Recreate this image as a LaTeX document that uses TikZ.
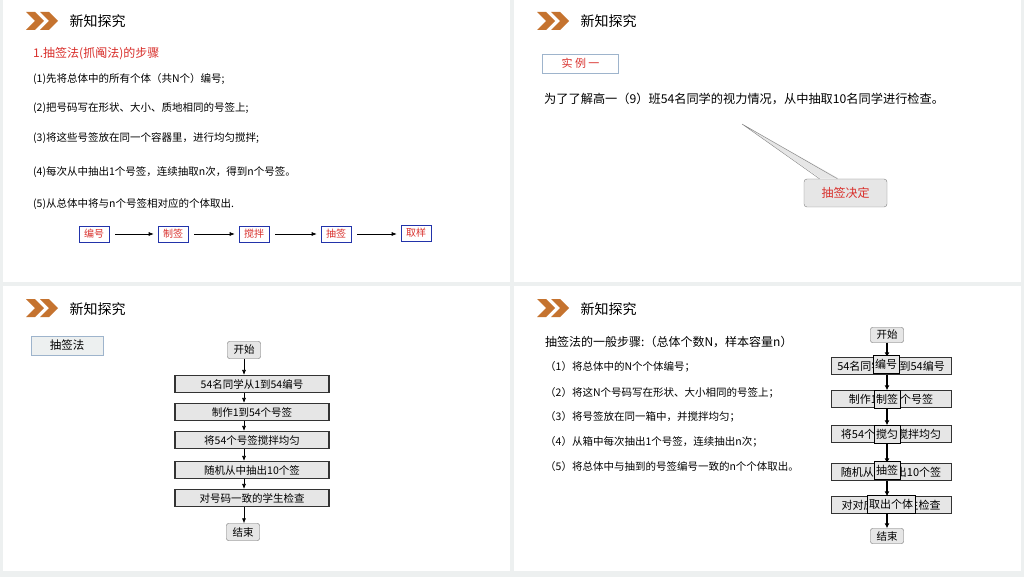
\documentclass[tikz,border=0pt]{standalone}
\usepackage{fontspec}
\setmainfont{Noto Sans CJK SC}
\usetikzlibrary{positioning,arrows.meta,calc}
\definecolor{chev}{HTML}{C5732F}
\definecolor{redtxt}{HTML}{D9302C}
\definecolor{bluebox}{HTML}{2233AA}
\definecolor{panelbg}{HTML}{EDF0F0}
\definecolor{boxgray}{HTML}{E6E6E6}
\definecolor{lightblue}{HTML}{9EB4CC}
\tikzset{
  chevron/.style={fill=chev, draw=none},
  title/.style={anchor=west, font=\fontsize{14}{14}\selectfont},
  stepline/.style={anchor=west, font=\fontsize{10.5}{10.5}\selectfont, inner sep=0pt},
  flowbox/.style={draw=bluebox, semithick, text=redtxt, font=\fontsize{10}{10}\selectfont, minimum width=30pt, minimum height=16pt, inner sep=1pt},
  procbox/.style={draw=black!80, line width=1.1pt, fill=boxgray, font=\fontsize{10.5}{10.5}\selectfont, minimum width=154pt, minimum height=17pt, inner sep=0pt},
  termbox/.style={draw=black!60, fill=boxgray, rounded corners=2pt, font=\fontsize{10.5}{10.5}\selectfont, minimum width=33pt, minimum height=17pt, inner sep=1pt},
  sprocbox/.style={draw=black!80, fill=boxgray, font=\fontsize{11}{11}\selectfont, minimum width=120pt, minimum height=17pt, inner sep=0pt},
  overbox/.style={draw=black, line width=0.9pt, fill=boxgray, font=\fontsize{11}{11}\selectfont, minimum height=18pt, inner sep=2pt},
  flowarrow/.style={-{Latex[length=5pt,width=4pt]}, semithick},
  thickarrow/.style={-{Latex[length=5pt,width=5pt]}, line width=1.5pt},
}
\newcommand{\chevrons}[2]{%
  \fill[chevron] (#1,#2) -- ++(9,0) -- ++(9,9) -- ++(-9,9) -- ++(-9,0) -- ++(9,-9) -- cycle;
  \fill[chevron] ($(#1,#2)+(14,0)$) -- ++(9,0) -- ++(9,9) -- ++(-9,9) -- ++(-9,0) -- ++(9,-9) -- cycle;}
\begin{document}
\begin{tikzpicture}[x=1pt,y=-1pt]
  \fill[panelbg] (0,0) rectangle (1024,577);
  \fill[white] (3,0) rectangle (510,282);
  \fill[white] (514,0) rectangle (1021,282);
  \fill[white] (3,286) rectangle (510,571);
  \fill[white] (514,286) rectangle (1021,571);
  \useasboundingbox (0,0) rectangle (1024,577);

  % panel 1
  \chevrons{26}{12}
  \node[title] (t1) at (66,21) {新知探究};
  \node[stepline, text=redtxt, font=\fontsize{12}{12}\selectfont] (h1) at (33,54) {1.抽签法(抓阄法)的步骤};
  \node[stepline] (s1) at (33,79) {(1)先将总体中的所有个体（共N个）编号;};
  \node[stepline] (s2) at (33,108) {(2)把号码写在形状、大小、质地相同的号签上;};
  \node[stepline] (s3) at (33,138) {(3)将这些号签放在同一个容器里，进行均匀搅拌;};
  \node[stepline] (s4) at (33,172) {(4)每次从中抽出1个号签，连续抽取n次，得到n个号签。};
  \node[stepline] (s5) at (33,204) {(5)从总体中将与n个号签相对应的个体取出.};
  \node[flowbox] (f1) at (94,234) {编号};
  \node[flowbox] (f2) at (173,234) {制签};
  \node[flowbox] (f3) at (254,234) {搅拌};
  \node[flowbox] (f4) at (336,234) {抽签};
  \node[flowbox] (f5) at (416,233) {取样};
  \foreach \a/\b in {f1/f2,f2/f3,f3/f4,f4/f5}
    \draw[flowarrow] ([xshift=6pt]\a.east) -- ([xshift=-4pt]\b.west |- \a.east);

  % panel 2
  \chevrons{537}{12}
  \node[title] (t2) at (577,21) {新知探究};
  \node[draw=lightblue, text=redtxt, font=\fontsize{11}{11}\selectfont, minimum width=76pt, minimum height=19pt] (ex) at (580.5,63.5) {实 例 一};
  \node[stepline, font=\fontsize{12.2}{12.2}\selectfont] (q) at (544,99) {为了了解高一（9）班54名同学的视力情况，从中抽取10名同学进行检查。};
  \coordinate (tip) at (742,124);
  \node[draw=black!50, fill=boxgray, rounded corners=3pt, text=redtxt, font=\fontsize{12}{12}\selectfont, minimum width=83pt, minimum height=28pt] (call) at (845.5,193) {抽签决定};
  \fill[boxgray] ([xshift=-26pt,yshift=1pt]call.north) -- (tip) -- ([xshift=-8pt,yshift=1pt]call.north) -- cycle;
  \draw[black!50] ([xshift=-26pt]call.north) -- (tip) -- ([xshift=-8pt]call.north);

  % panel 3
  \chevrons{26}{299}
  \node[title] (t3) at (66,309) {新知探究};
  \node[draw=lightblue, fill=panelbg, font=\fontsize{11.5}{11.5}\selectfont, minimum width=72pt, minimum height=19pt] (cq) at (67,345.5) {抽签法};
  \node[termbox] (b0) at (244,350) {开始};
  \node[procbox] (b1) at (252,384) {54名同学从1到54编号};
  \node[procbox] (b2) at (252,412) {制作1到54个号签};
  \node[procbox] (b3) at (252,440) {将54个号签搅拌均匀};
  \node[procbox] (b4) at (252,470) {随机从中抽出10个签};
  \node[procbox] (b5) at (252,498) {对号码一致的学生检查};
  \node[termbox] (b6) at (243,532) {结束};
  \foreach \a/\b in {b0/b1,b1/b2,b2/b3,b3/b4,b4/b5,b5/b6}
    \draw[flowarrow] (\a.south -| b0) -- (\b.north -| b0);

  % panel 4
  \chevrons{537}{299}
  \node[title] (t4) at (577,309) {新知探究};
  \node[stepline, font=\fontsize{12}{12}\selectfont] (g) at (545,342) {抽签法的一般步骤:（总体个数N，样本容量n）};
  \node[stepline] (r1) at (545,367) {（1）将总体中的N个个体编号；};
  \node[stepline] (r2) at (545,393) {（2）将这N个号码写在形状、大小相同的号签上；};
  \node[stepline] (r3) at (545,417) {（3）将号签放在同一箱中，并搅拌均匀；};
  \node[stepline] (r4) at (545,442) {（4）从箱中每次抽出1个号签，连续抽出n次；};
  \node[stepline] (r5) at (545,467) {（5）将总体中与抽到的号签编号一致的n个个体取出。};
  \node[termbox, minimum height=15pt] (c0) at (887,335) {开始};
  \node[sprocbox] (c1) at (891,366) {54名同学从1到54编号};
  \node[sprocbox] (c2) at (891,399) {制作1到54个号签};
  \node[sprocbox] (c3) at (891,434) {将54个号签搅拌均匀};
  \node[sprocbox] (c4) at (891,472) {随机从中抽出10个签};
  \node[sprocbox] (c5) at (891,505) {对对应号码学生检查};
  \node[termbox, minimum height=15pt] (c6) at (887,536) {结束};
  \foreach \a/\b in {c0/c1,c1/c2,c2/c3,c3/c4,c4/c5,c5/c6}
    \draw[thickarrow] (\a.south -| c0) -- (\b.north -| c0);
  \node[overbox] (o1) at (886,364) {编号};
  \node[overbox] (o2) at (887,399) {制签};
  \node[overbox] (o3) at (887,434) {搅匀};
  \node[overbox] (o4) at (887,470) {抽签};
  \node[overbox] (o5) at (891,504) {取出个体};
\end{tikzpicture}
\end{document}
